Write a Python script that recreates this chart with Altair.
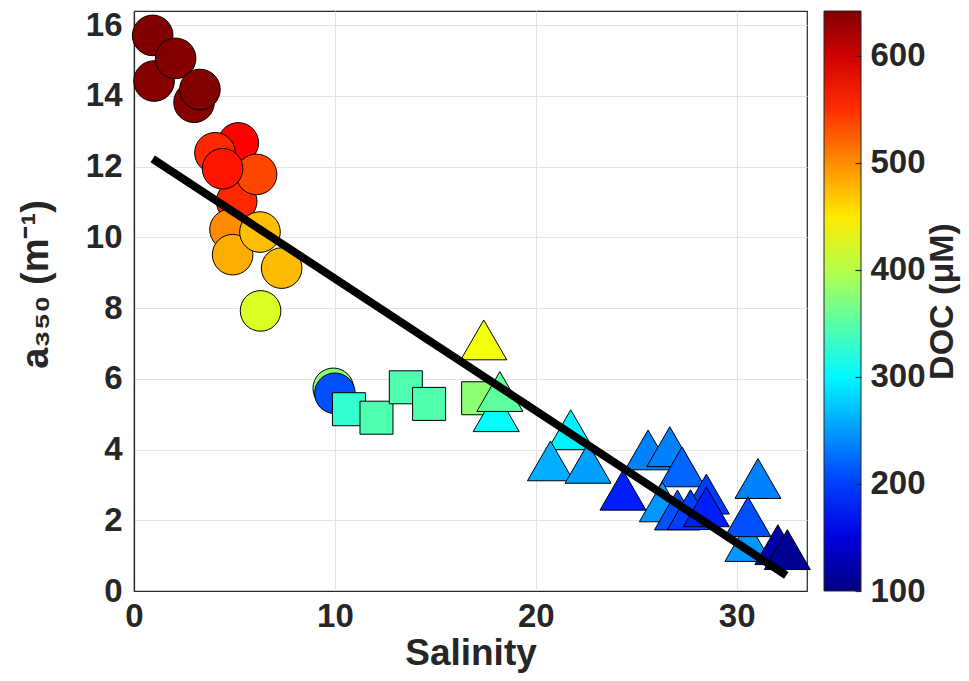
import altair as alt
import pandas as pd

# ---- data ----
circle_sal = [0.93, 1.00, 2.07, 2.99, 3.28, 5.11, 5.19, 6.10, 4.03, 4.41, 4.78, 4.91, 6.27, 7.35, 6.30, 9.92, 10.00]
circle_a350 = [15.71, 14.42, 15.06, 13.82, 14.18, 11.02, 12.67, 11.78, 12.39, 11.94, 10.22, 9.51, 10.15, 9.13, 7.92, 5.73, 5.59]
circle_doc = [642, 639, 640, 637, 641, 553, 574, 537, 553, 563, 500, 483, 473, 475, 420, 374, 210]

square_sal = [10.70, 12.07, 13.53, 14.69, 17.13]
square_a350 = [5.14, 4.90, 5.76, 5.29, 5.45]
square_doc = [330, 345, 345, 347, 378]

tri_sal = [17.41, 18.03, 18.21, 21.74, 20.73, 22.60, 24.34, 25.59, 26.67, 27.28, 26.30, 27.05,
           28.49, 27.70, 28.49, 31.06, 30.56, 30.56, 32.05, 32.52]
tri_a350 = [7.10, 5.07, 5.64, 4.56, 3.68, 3.61, 2.85, 3.99, 4.08, 3.51, 2.52, 2.29,
            2.74, 2.30, 2.38, 3.18, 1.40, 2.10, 1.31, 1.17]
tri_doc = [433, 303, 353, 296, 261, 253, 183, 237, 237, 221, 248, 210,
           199, 201, 183, 237, 248, 210, 122, 112]

fit_sal = [0.93, 32.47]
fit_a350 = [12.22, 0.44]

x_ticks = [0, 10, 20, 30]
y_ticks = [0, 2, 4, 6, 8, 10, 12, 14, 16]
doc_ticks = [100, 200, 300, 400, 500, 600]
doc_range = [100, 642]

# jet colormap stops over the colour-bar range
jet_domain = [100, 167.75, 303.25, 438.75, 574.25, 642]
jet_colors = ["#000080", "#0000ff", "#00ffff", "#ffff00", "#ff0000", "#800000"]

circles = pd.DataFrame({"sal": circle_sal, "a350": circle_a350, "doc": circle_doc})
squares = pd.DataFrame({"sal": square_sal, "a350": square_a350, "doc": square_doc})
tris = pd.DataFrame({"sal": tri_sal, "a350": tri_a350, "doc": tri_doc})
fit = pd.DataFrame({"sal": fit_sal, "a350": fit_a350})

FONT = "Liberation Sans"
TXT = "#262626"
PLOT_H = 580

xscale = alt.Scale(domain=[0, 33.5], nice=False, zero=False)
yscale = alt.Scale(domain=[0, 16.4], nice=False, zero=False)

x_enc = alt.X("sal:Q", scale=xscale, title="Salinity",
              axis=alt.Axis(values=x_ticks, grid=True, ticks=False, labelPadding=9,
                            labelFlush=False, titlePadding=2, titleFontSize=37))
y_enc = alt.Y("a350:Q", scale=yscale, title="a₃₅₀ (m⁻¹)",
              axis=alt.Axis(values=y_ticks, grid=True, ticks=False, labelPadding=12,
                            labelFlush=False, titlePadding=30, titleFontSize=38,
                            titleY=273))
c_enc = alt.Color("doc:Q",
                  scale=alt.Scale(domain=jet_domain, range=jet_colors, interpolate="rgb"),
                  legend=alt.Legend(title=None, orient="none", legendX=690, legendY=0,
                                    direction="vertical", gradientLength=PLOT_H,
                                    gradientThickness=37, gradientStrokeColor=TXT,
                                    gradientStrokeWidth=1, values=doc_ticks,
                                    labelOpacity=0, labelFontSize=1))

base_mark = dict(filled=True, opacity=1, stroke="black", strokeWidth=1)

layer_c = alt.Chart(circles).mark_point(shape="circle", size=1650, **base_mark).encode(
    x=x_enc, y=y_enc, color=c_enc)
layer_s = alt.Chart(squares).mark_point(shape="square", size=1090, **base_mark).encode(
    x=x_enc, y=y_enc, color=c_enc)
layer_t = alt.Chart(tris).mark_point(shape="triangle-up", size=2116, **base_mark).encode(
    x=x_enc, y=y_enc, color=c_enc)
layer_l = alt.Chart(fit).mark_line(color="black", strokeWidth=8).encode(x=x_enc, y=y_enc)

main = alt.layer(layer_c, layer_s, layer_t, layer_l)

# colour-bar axis (labels, inner ticks and rotated title) on the DOC scale
doc_axis = alt.Chart(tris).mark_point(opacity=0, size=1).encode(
    x=x_enc,
    y=alt.Y("doc:Q", scale=alt.Scale(domain=doc_range, nice=False, zero=False),
            title="DOC (μM)",
            axis=alt.Axis(orient="right", values=doc_ticks, grid=False, domain=False,
                          ticks=True, tickSize=6, tickColor=TXT, tickWidth=1.2,
                          offset=48, labelPadding=9, labelFlush=False,
                          titleAngle=270, titleFontSize=34, titleBaseline="middle",
                          titlePadding=17, zindex=2)),
)

chart = alt.layer(main, doc_axis).resolve_scale(y="independent").properties(
    width=673, height=PLOT_H,
    background="white",
    autosize=alt.AutoSizeParams(type="none"),
    padding={"left": 126, "top": 3, "right": 154, "bottom": 82},
).configure_view(stroke=TXT, strokeWidth=1.2).configure_axis(
    labelFont=FONT, labelFontSize=33, labelFontWeight="bold", labelColor=TXT,
    titleFont=FONT, titleFontSize=36, titleFontWeight="bold", titleColor=TXT,
    domainColor=TXT, domainWidth=1.2, gridColor="#e2e2e2", gridWidth=1,
)

chart.save("out.html", embed_options={"renderer": "svg", "actions": False})
